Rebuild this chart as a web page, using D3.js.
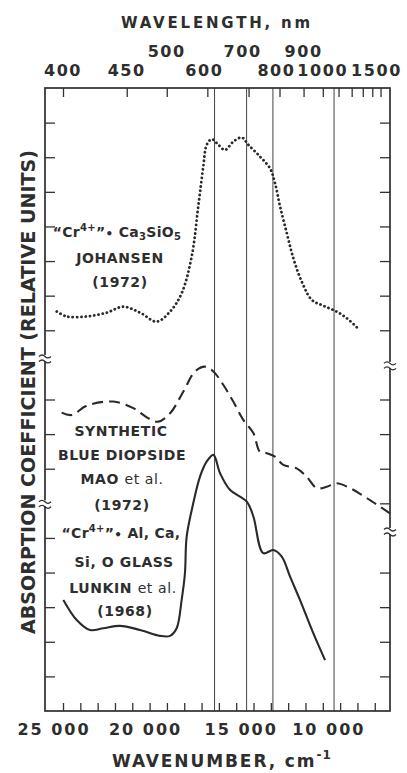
<!DOCTYPE html>
<html>
<head>
<meta charset="utf-8">
<script src="https://cdn.jsdelivr.net/npm/d3@7/dist/d3.min.js"></script>
<style>
  body { margin: 0; background: #fff; }
  text { font-family: "DejaVu Sans", sans-serif; font-weight: bold; fill: #2e2e2e; }
  .ax line { stroke: #333; stroke-width: 1.3; }
  .ax path { display: none; }
</style>
</head>
<body>
<div id="chart"></div>
<script>
// wavenumber (cm-1) / absorption (relative units, one unit per tick)
const johansenWn = [25360, 24790, 23630, 22480, 21520, 20550, 19590, 18820, 18150, 17570, 17190, 16900, 16700, 16410, 16030, 15650, 15170, 14680, 14300, 13630, 13050, 12760, 12470, 12080, 11700, 11220, 10640, 9970, 9200, 8620, 8040];
const johansenAbs = [11.54, 11.40, 11.40, 11.51, 11.68, 11.51, 11.25, 11.54, 12.07, 13.13, 14.58, 15.73, 16.36, 16.52, 16.36, 16.21, 16.45, 16.57, 16.36, 16.02, 15.68, 15.25, 14.58, 13.81, 13.08, 12.41, 11.88, 11.71, 11.54, 11.35, 11.09];

const maoWn = [25080, 24500, 23630, 22100, 20940, 20080, 19500, 18820, 18050, 17380, 16800, 16320, 15740, 15170, 14590, 14010, 13630, 13240, 12760, 12280, 11510, 10930, 10350, 9770, 9200, 8430, 7460, 6120];
const maoAbs = [8.62, 8.55, 8.82, 8.94, 8.75, 8.46, 8.36, 8.60, 9.23, 9.81, 9.95, 9.81, 9.42, 8.94, 8.41, 8.03, 7.49, 7.45, 7.35, 7.11, 7.01, 6.77, 6.44, 6.48, 6.58, 6.44, 6.15, 5.71];

const lunkinWn = [24980, 24210, 23440, 22670, 21710, 20550, 19400, 18820, 18440, 18150, 17960, 17860, 17480, 17090, 16700, 16320, 15930, 15360, 14390, 14010, 13440, 12860, 12370, 11890, 11320, 10550, 9870];
const lunkinAbs = [3.21, 2.63, 2.34, 2.39, 2.46, 2.34, 2.17, 2.17, 2.39, 3.21, 3.98, 5.04, 6.00, 6.77, 7.21, 7.40, 6.87, 6.39, 6.05, 5.62, 4.56, 4.65, 4.46, 3.88, 3.21, 2.25, 1.47];

const markerLinesWn = [16250, 14400, 12880, 9350];

const bottomTicks = d3.range(25000, 6999, -1000);
const bottomLabels = [25000, 20000, 15000, 10000];

// wavelength ticks, placed where the printed scale puts them
const topTickNm = [400, 450, 500, 600, 700, 800, 900, 1000, 1100, 1200, 1300, 1400, 1500];
const topTickWn = [25000, 21320, 19010, 16667, 14286, 12500, 11111, 10000, 9091, 8333, 7692, 7143, 6667];
const topRow1 = [500, 700, 900];
const topRow2 = [400, 450, 600, 800, 1000, 1500];

const leftTicks = [1, 2, 3, 4, 5, 7, 8, 9, 11, 12, 13, 14, 15, 16, 17];
const rightTicks = [1, 2, 3, 4, 6, 7, 8, 9, 11, 12, 13, 14, 15, 16, 17];
const leftBreaks = [10.2, 6.0];
const rightBreaks = [10.0, 5.2];

const W = 407, H = 773;
const margin = {top: 88, right: 17, bottom: 62, left: 45};

const svg = d3.select("#chart").append("svg")
  .attr("width", W).attr("height", H);

const x = d3.scaleLinear().domain([26040, 6120]).range([margin.left, W - margin.right]);
const y = d3.scaleLinear().domain([0, 18]).range([H - margin.bottom, margin.top]);
const x0 = x.range()[0], x1 = x.range()[1], y0 = y.range()[0], y1 = y.range()[1];

// vertical reference lines
svg.selectAll("line.mark").data(markerLinesWn).enter().append("line")
  .attr("x1", d => x(d)).attr("x2", d => x(d))
  .attr("y1", y1).attr("y2", y0)
  .attr("stroke", "#444").attr("stroke-width", 1);

// ticks, all pointing inward
svg.append("g").attr("class", "ax").attr("transform", `translate(0,${y0})`)
  .call(d3.axisBottom(x).tickValues(bottomTicks).tickSize(-8).tickFormat(""));
svg.append("g").attr("class", "ax").attr("transform", `translate(0,${y1})`)
  .call(d3.axisTop(x).tickValues(topTickWn).tickSize(-9).tickFormat(""));
svg.append("g").attr("class", "ax").attr("transform", `translate(${x0},0)`)
  .call(d3.axisLeft(y).tickValues(leftTicks).tickSize(-10).tickFormat(""));
svg.append("g").attr("class", "ax").attr("transform", `translate(${x1},0)`)
  .call(d3.axisRight(y).tickValues(rightTicks).tickSize(-10).tickFormat(""));

// frame
svg.append("rect")
  .attr("x", x0).attr("y", y1).attr("width", x1 - x0).attr("height", y0 - y1)
  .attr("fill", "none").attr("stroke", "#2e2e2e").attr("stroke-width", 1.7);

// axis breaks
function drawBreak(cx, v) {
  const cy = y(v);
  svg.append("rect").attr("x", cx - 2).attr("y", cy - 3).attr("width", 4).attr("height", 6).attr("fill", "#fff");
  [-2.5, 2.5].forEach(off => {
    svg.append("path")
      .attr("d", `M${cx - 6},${cy + off + 1} q3,-3 6,0 t6,0`)
      .attr("fill", "none").attr("stroke", "#2e2e2e").attr("stroke-width", 1.3);
  });
}
leftBreaks.forEach(v => drawBreak(x0, v));
rightBreaks.forEach(v => drawBreak(x1, v));

// curves
const line = d3.line().x(d => x(d[0])).y(d => y(d[1])).curve(d3.curveCatmullRom.alpha(0.5));

svg.append("path")
  .attr("d", line(d3.zip(johansenWn, johansenAbs)))
  .attr("fill", "none").attr("stroke", "#2a2a2a").attr("stroke-width", 2.8)
  .attr("stroke-linecap", "round").attr("stroke-dasharray", "0.1 4.2");

svg.append("path")
  .attr("d", line(d3.zip(maoWn, maoAbs)))
  .attr("fill", "none").attr("stroke", "#2a2a2a").attr("stroke-width", 2.1)
  .attr("stroke-dasharray", "11 6");

svg.append("path")
  .attr("d", line(d3.zip(lunkinWn, lunkinAbs)))
  .attr("fill", "none").attr("stroke", "#2a2a2a").attr("stroke-width", 2.1);

// bottom tick labels
const bottomNudge = {25000: -9, 20000: -4, 15000: 5, 10000: 6};
svg.selectAll("text.bl").data(bottomLabels).enter().append("text")
  .attr("x", d => x(d) + bottomNudge[d]).attr("y", 735)
  .attr("text-anchor", "middle").attr("font-size", 16).attr("letter-spacing", 2)
  .text(d => d3.format(",")(d).replace(",", " "));

// top tick labels
const topNudge = {600: -3, 700: -6, 800: -3, 1000: 0, 1500: -4};
function topLabel(nm, ty) {
  const wn = topTickWn[topTickNm.indexOf(nm)];
  svg.append("text")
    .attr("x", x(wn) + (topNudge[nm] || 0)).attr("y", ty)
    .attr("text-anchor", "middle").attr("font-size", 16).attr("letter-spacing", 1.6)
    .text(nm);
}
topRow1.forEach(nm => topLabel(nm, 57));
topRow2.forEach(nm => topLabel(nm, 76));

// axis titles
svg.append("text").attr("x", 217).attr("y", 28).attr("text-anchor", "middle")
  .attr("font-size", 15).attr("letter-spacing", 2.8).text("WAVELENGTH, nm");

const bt = svg.append("text").attr("x", 112).attr("y", 767)
  .attr("font-size", 17).attr("letter-spacing", 1.9);
bt.append("tspan").text("WAVENUMBER, cm");
bt.append("tspan").attr("font-size", 12).attr("dy", -8).attr("letter-spacing", 1).text("-1");

svg.append("text")
  .attr("transform", "translate(35,392) rotate(-90)")
  .attr("text-anchor", "middle").attr("font-size", 19)
  .attr("textLength", 484).attr("lengthAdjust", "spacingAndGlyphs")
  .text("ABSORPTION COEFFICIENT (RELATIVE UNITS)");

// annotations
function crLabel(cx, cy, tail) {
  const t = svg.append("text").attr("x", cx).attr("y", cy)
    .attr("text-anchor", "middle").attr("font-size", 14).attr("letter-spacing", 0.3);
  t.append("tspan").text("\u201CCr");
  t.append("tspan").attr("font-size", 10).attr("dy", -6).text("4+");
  t.append("tspan").attr("dy", 6).text("\u201D");
  t.append("tspan").attr("font-size", 12).attr("dy", 1).text("\u2022");
  t.append("tspan").attr("dy", -1).text(" ");
  tail(t);
}

crLabel(117, 237, t => {
  t.append("tspan").text("Ca");
  t.append("tspan").attr("font-size", 10).attr("dy", 3).text("3");
  t.append("tspan").attr("dy", -3).text("SiO");
  t.append("tspan").attr("font-size", 10).attr("dy", 3).text("5");
});
crLabel(121, 538, t => { t.append("tspan").text("Al, Ca,"); });

const notes = [
  {x: 120, y: 263, t: "JOHANSEN"},
  {x: 120, y: 287, t: "(1972)"},
  {x: 121, y: 436, t: "SYNTHETIC"},
  {x: 122, y: 460, t: "BLUE DIOPSIDE"},
  {x: 122, y: 510, t: "(1972)"},
  {x: 124, y: 567, t: "Si, O GLASS"},
  {x: 125, y: 616, t: "(1968)"}
];
svg.selectAll("text.note").data(notes).enter().append("text")
  .attr("x", d => d.x).attr("y", d => d.y)
  .attr("text-anchor", "middle").attr("font-size", 14).attr("letter-spacing", 0.6)
  .text(d => d.t);

function etAl(cx, cy, name) {
  const t = svg.append("text").attr("x", cx).attr("y", cy)
    .attr("text-anchor", "middle").attr("font-size", 14).attr("letter-spacing", 0.6);
  t.append("tspan").text(name + " ");
  t.append("tspan").attr("font-weight", "normal").text("et al.");
}
etAl(122, 484, "MAO");
etAl(123, 593, "LUNKIN");
</script>
</body>
</html>
